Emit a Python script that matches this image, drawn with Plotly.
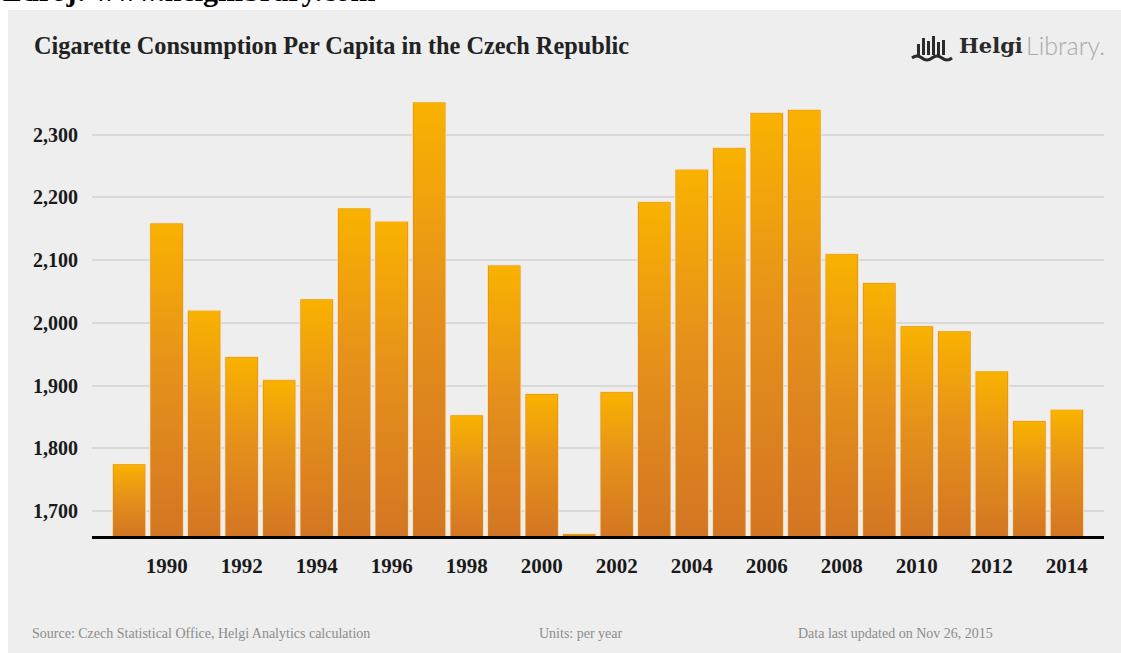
import plotly.graph_objects as go

# Cigarette consumption per capita, Czech Republic (cigarettes per year)
years = list(range(1989, 2015))
consumption = [1775, 2159, 2020, 1946, 1909, 2038, 2183, 2162, 2352, 1853,
               2092, 1887, 1664, 1890, 2193, 2245, 2279, 2335, 2340, 2110,
               2064, 1995, 1987, 1923, 1844, 1862]
tick_years = list(range(1990, 2015, 2))
y_ticks = [1700, 1800, 1900, 2000, 2100, 2200, 2300]

Y_MIN, Y_MAX = 1660, 2400
BAR_W = 0.89

W_PX, H_PX = 1121, 653
M_L, M_R, M_T, M_B = 92, 17, 72, 117
PLOT_W = W_PX - M_L - M_R
PLOT_H = H_PX - M_T - M_B
PLOT_BOTTOM = H_PX - M_B


def px(x):
    return (x - M_L) / PLOT_W


def py(y):
    return (PLOT_BOTTOM - y) / PLOT_H


SERIF = "Liberation Serif, Times New Roman, serif"

fig = go.Figure()

fig.add_trace(go.Bar(
    x=years, y=consumption, width=BAR_W,
    marker=dict(color="#d8801f", line=dict(color="rgba(255,232,190,0.85)", width=1)),
    hoverinfo="x+y", showlegend=False,
))

# vertical orange gradient inside each bar
inset_x = 0.025
for yr, v in zip(years, consumption):
    x0 = yr - BAR_W / 2 + inset_x
    x1 = yr + BAR_W / 2 - inset_x
    top = max(v - 1.2, Y_MIN + 0.5)
    fig.add_trace(go.Scatter(
        x=[x0, x1, x1, x0, x0], y=[Y_MIN, Y_MIN, top, top, Y_MIN],
        mode="lines", line=dict(width=0), fill="toself",
        fillgradient=dict(type="vertical",
                          colorscale=[[0, "#d37623"], [0.55, "#e6921a"], [1, "#f9b200"]],
                          start=Y_MIN, stop=top),
        hoverinfo="skip", showlegend=False,
    ))

shapes = [
    # grey card behind the chart
    dict(type="rect", xref="paper", yref="paper", layer="below",
         x0=px(8), x1=px(W_PX + 5), y0=py(10), y1=py(H_PX + 5),
         fillcolor="#eeeeee", line=dict(width=0)),
]

# small bar-chart logo mark
logo_bars = [(917, 44), (922, 38), (927, 41), (932, 36), (937, 42), (942, 40)]
for bx, btop in logo_bars:
    shapes.append(dict(type="rect", xref="paper", yref="paper",
                       x0=px(bx), x1=px(bx + 3), y0=py(55), y1=py(btop),
                       fillcolor="#2b2b2b", line=dict(width=0)))
shapes.append(dict(
    type="path", xref="paper", yref="paper",
    path=("M {} {} Q {} {} {} {} T {} {} T {} {} T {} {}".format(
        px(912), py(58), px(917), py(54), px(922), py(58),
        px(932), py(58), px(942), py(58), px(952), py(58))),
    line=dict(color="#2b2b2b", width=3)))

annotations = [
    dict(text="<b>Zdroj: www.helgilibrary.com</b>", xref="paper", yref="paper",
         x=px(0), y=py(9), xanchor="left", yanchor="bottom", showarrow=False,
         font=dict(family=SERIF, size=30, color="#000000")),
    dict(text="<b>Cigarette Consumption Per Capita in the Czech Republic</b>",
         xref="paper", yref="paper", x=px(32), y=py(46), xanchor="left",
         yanchor="middle", showarrow=False,
         font=dict(family=SERIF, size=24.3, color="#222222")),
    dict(text="Helgi", xref="paper", yref="paper", x=px(1025), y=py(45),
         xanchor="right", yanchor="middle", showarrow=False,
         font=dict(family="DejaVu Serif", size=21, color="#2a2a2a", weight="bold")),
    dict(text="Library.", xref="paper", yref="paper", x=px(1024), y=py(45),
         xanchor="left", yanchor="middle", showarrow=False,
         font=dict(family="Lato", size=25, color="#a9a9a9", weight=300)),
    dict(text="Source: Czech Statistical Office, Helgi Analytics calculation",
         xref="paper", yref="paper", x=px(30), y=py(633), xanchor="left",
         yanchor="middle", showarrow=False,
         font=dict(family=SERIF, size=14, color="#8c8c8c")),
    dict(text="Units: per year", xref="paper", yref="paper", x=px(537), y=py(633),
         xanchor="left", yanchor="middle", showarrow=False,
         font=dict(family=SERIF, size=14, color="#8c8c8c")),
    dict(text="Data last updated on Nov 26, 2015", xref="paper", yref="paper",
         x=px(796), y=py(633), xanchor="left", yanchor="middle", showarrow=False,
         font=dict(family=SERIF, size=14, color="#8c8c8c")),
]

fig.update_layout(
    width=W_PX, height=H_PX,
    margin=dict(l=M_L, r=M_R, t=M_T, b=M_B, pad=0),
    paper_bgcolor="#ffffff", plot_bgcolor="rgba(0,0,0,0)",
    shapes=shapes, annotations=annotations,
    bargap=1 - BAR_W, showlegend=False,
    xaxis=dict(
        range=[1988.01, 2014.99], tickmode="array", tickvals=tick_years,
        ticktext=[str(y) for y in tick_years], showgrid=False, zeroline=False,
        showline=True, linecolor="#000000", linewidth=2.5, ticks="",
        ticklabelstandoff=9,
        tickfont=dict(family=SERIF, size=21, color="#1a1a1a", weight="bold"),
    ),
    yaxis=dict(
        range=[Y_MIN, Y_MAX], tickmode="array", tickvals=y_ticks,
        ticktext=[f"{v:,}" for v in y_ticks], showgrid=True,
        gridcolor="#d9d9d9", gridwidth=1.5, zeroline=False, showline=False,
        ticks="", ticklabelstandoff=13,
        tickfont=dict(family=SERIF, size=20, color="#1a1a1a", weight="bold"),
    ),
)

fig.write_html("out.html")
